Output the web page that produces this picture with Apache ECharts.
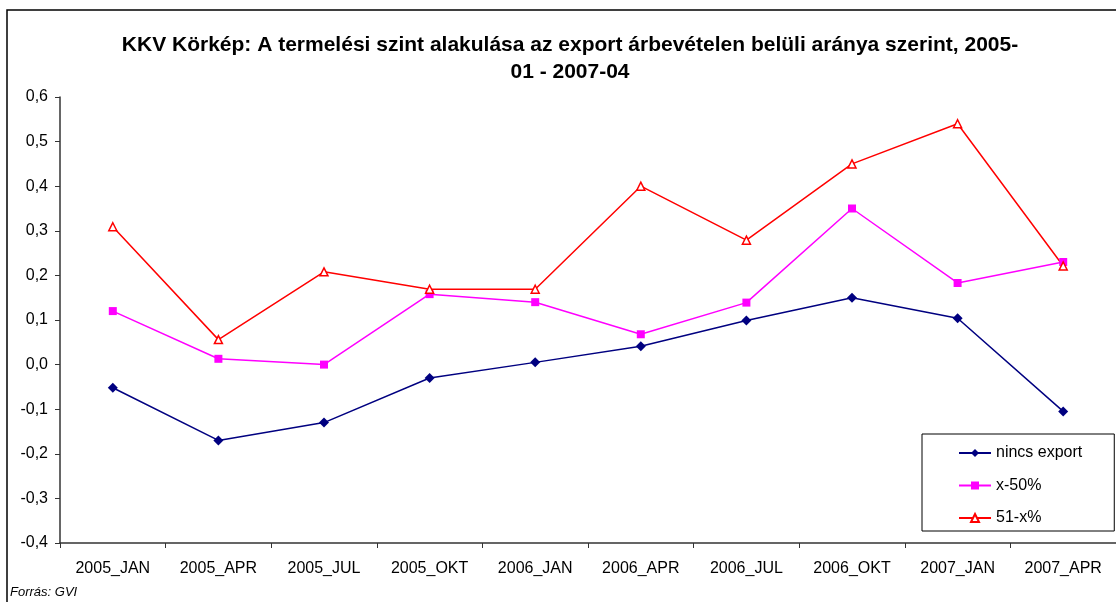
<!DOCTYPE html>
<html>
<head>
<meta charset="utf-8">
<script src="https://cdn.jsdelivr.net/npm/echarts@6/dist/echarts.min.js"></script>
<style>
  html, body { margin: 0; padding: 0; background: #fff; }
  #chart { width: 1116px; height: 602px; }
</style>
</head>
<body>
<div id="chart"></div>
<script>
const categories = ['2005_JAN', '2005_APR', '2005_JUL', '2005_OKT', '2006_JAN', '2006_APR', '2006_JUL', '2006_OKT', '2007_JAN', '2007_APR'];
const ninc = [-0.052, -0.17, -0.13, -0.03, 0.005, 0.041, 0.099, 0.15, 0.104, -0.105];
const x50 = [0.12, 0.013, 0.0, 0.158, 0.14, 0.068, 0.139, 0.35, 0.183, 0.23];
const x51 = [0.309, 0.056, 0.208, 0.169, 0.169, 0.40, 0.279, 0.45, 0.54, 0.221];

const chart = echarts.init(document.getElementById('chart'));
const font = 'Liberation Sans, Arial, sans-serif';

chart.setOption({
  animation: false,
  textStyle: { fontFamily: font },
  title: {
    text: 'KKV Körkép: A termelési szint alakulása az export árbevételen belüli aránya szerint, 2005-\n01 - 2007-04',
    left: 565,
    textAlign: 'center',
    top: 27,
    textStyle: { fontSize: 21, fontWeight: 'bold', color: '#000', lineHeight: 27, fontFamily: font }
  },
  graphic: [
    {
      type: 'rect',
      shape: { x: 7, y: 10, width: 1200, height: 700 },
      style: { fill: 'none', stroke: '#000', lineWidth: 1.5 },
      silent: true
    },
    {
      type: 'text',
      left: 10,
      top: 586,
      style: { text: 'Forrás: GVI', font: 'italic 13px ' + font, fill: '#000' }
    }
  ],
  legend: {
    orient: 'vertical',
    left: 922,
    top: 434,
    itemWidth: 32,
    itemHeight: 10,
    itemGap: 16.5,
    padding: [11, 32, 5, 36],
    borderColor: '#000',
    borderWidth: 1,
    backgroundColor: '#fff',
    textStyle: { fontSize: 16, color: '#000', fontFamily: font }
  },
  grid: { left: 60, top: 97, width: 1066, height: 446, containLabel: false },
  xAxis: {
    type: 'category',
    data: categories,
    boundaryGap: true,
    axisLine: { onZero: false, lineStyle: { color: '#333', width: 1.5 } },
    axisTick: { show: true, length: 5, lineStyle: { color: '#333' } },
    axisLabel: { fontSize: 16, color: '#000', margin: 18, interval: 0 },
    splitLine: { show: false }
  },
  yAxis: {
    type: 'value',
    min: -0.4,
    max: 0.6,
    interval: 0.1,
    axisLine: { show: true, lineStyle: { color: '#333', width: 1.5 } },
    axisTick: { show: true, length: 5, lineStyle: { color: '#333' } },
    axisLabel: {
      fontSize: 16,
      color: '#000',
      margin: 12,
      formatter: v => v.toFixed(1).replace('.', ',')
    },
    splitLine: { show: false }
  },
  series: [
    {
      name: 'nincs export',
      type: 'line',
      data: ninc,
      symbol: 'diamond',
      symbolSize: 10,
      lineStyle: { color: '#000080', width: 1.5 },
      itemStyle: { color: '#000080' }
    },
    {
      name: 'x-50%',
      type: 'line',
      data: x50,
      symbol: 'rect',
      symbolSize: 8,
      lineStyle: { color: '#FF00FF', width: 1.5 },
      itemStyle: { color: '#FF00FF' }
    },
    {
      name: '51-x%',
      type: 'line',
      data: x51,
      symbol: 'triangle',
      symbolSize: 8,
      lineStyle: { color: '#FF0000', width: 1.5 },
      itemStyle: { color: '#fff', borderColor: '#FF0000', borderWidth: 1.5 }
    }
  ]
});
</script>
</body>
</html>
